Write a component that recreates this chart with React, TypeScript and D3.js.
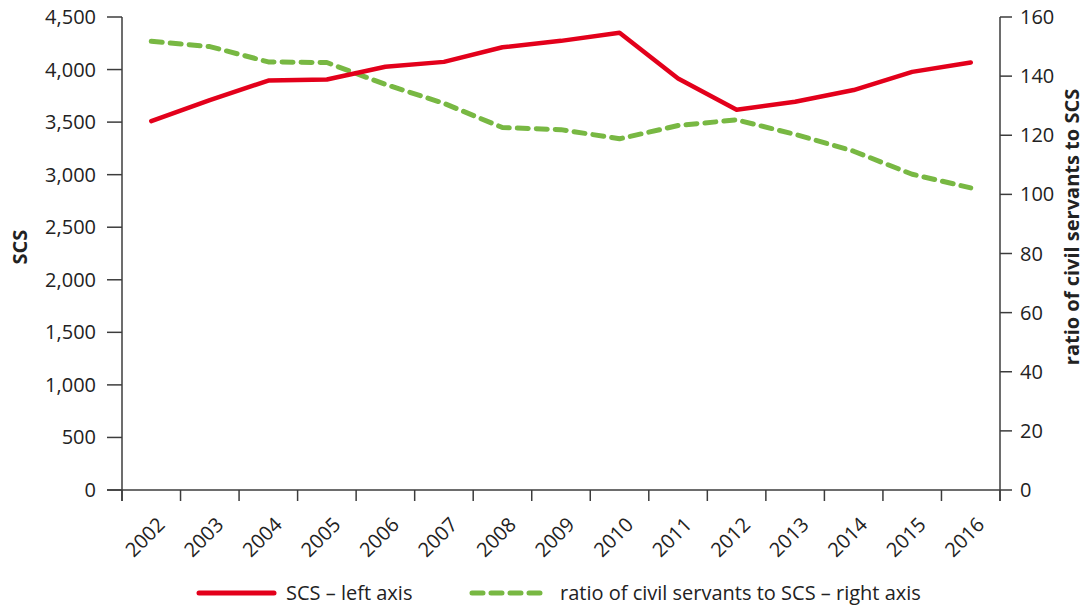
import React from "react";
import * as d3 from "d3";

const years = ["2002","2003","2004","2005","2006","2007","2008","2009","2010","2011","2012","2013","2014","2015","2016"];
const scsValues = [3510, 3710, 3895, 3905, 4027, 4073, 4212, 4273, 4350, 3915, 3618, 3693, 3805, 3978, 4068];
const ratioValues = [151.8, 150.0, 144.8, 144.6, 137.2, 130.8, 122.6, 121.9, 118.8, 123.3, 125.2, 120.3, 114.6, 106.8, 102.2];
const leftTicks = [0, 500, 1000, 1500, 2000, 2500, 3000, 3500, 4000, 4500];
const rightTicks = [0, 20, 40, 60, 80, 100, 120, 140, 160];

const FONT = "'Open Sans', 'Noto Sans', sans-serif";
const RED = "#e3001b";
const GREEN = "#78b843";
const AXIS = "#3c3c3c";

export default function App() {
  const W = 1089, H = 608;
  const left = 122, right = 1000, top = 17, bottom = 490;
  const x = d3.scaleBand<string>().domain(years).range([left, right]);
  const yL = d3.scaleLinear().domain([0, 4500]).range([bottom, top]);
  const yR = d3.scaleLinear().domain([0, 160]).range([bottom, top]);
  const cx = (y: string) => (x(y) as number) + x.bandwidth() / 2;

  const redLine = d3.line<number>().x((_, i) => cx(years[i])).y((d) => yL(d))(scsValues) as string;
  const greenLine = d3.line<number>().x((_, i) => cx(years[i])).y((d) => yR(d))(ratioValues) as string;

  const boundaries = years.map((y) => x(y) as number).concat([right]);

  return (
    <svg width={W} height={H} style={{ position: "absolute", left: 0, top: 0, background: "#fff" }} fontFamily={FONT}>
      {/* left axis */}
      <line x1={left} x2={left} y1={top} y2={bottom + 11} stroke={AXIS} strokeWidth={1.5} />
      {leftTicks.map((t) => (
        <g key={"l" + t}>
          <line x1={left - 15} x2={left} y1={yL(t)} y2={yL(t)} stroke={AXIS} strokeWidth={1.5} />
          <text x={96} y={yL(t)} dy="0.35em" textAnchor="end" fontSize={20} fill="#222">
            {d3.format(",")(t)}
          </text>
        </g>
      ))}
      {/* right axis */}
      <line x1={right} x2={right} y1={top} y2={bottom + 11} stroke={AXIS} strokeWidth={1.5} />
      {rightTicks.map((t) => (
        <g key={"r" + t}>
          <line x1={right} x2={right + 12} y1={yR(t)} y2={yR(t)} stroke={AXIS} strokeWidth={1.5} />
          <text x={1020} y={yR(t)} dy="0.35em" textAnchor="start" fontSize={20} fill="#222">
            {t}
          </text>
        </g>
      ))}
      {/* x axis */}
      <line x1={left - 15} x2={right} y1={bottom} y2={bottom} stroke={AXIS} strokeWidth={1.5} />
      {boundaries.map((b, i) => (
        <line key={"xt" + i} x1={b} x2={b} y1={bottom} y2={bottom + 11} stroke={AXIS} strokeWidth={1.5} />
      ))}
      {years.map((y) => (
        <text
          key={"xl" + y}
          transform={`translate(${cx(y) + 10},${bottom + 31}) rotate(-45)`}
          textAnchor="end"
          dy="0.35em"
          fontSize={20}
          fill="#222"
        >
          {y}
        </text>
      ))}
      {/* axis titles */}
      <text transform={`translate(27,247) rotate(-90)`} textAnchor="middle" fontSize={20} fontWeight="bold" fill="#222">
        SCS
      </text>
      <text transform={`translate(1079,227) rotate(-90)`} textAnchor="middle" fontSize={20} fontWeight="bold" fill="#222">
        ratio of civil servants to SCS
      </text>
      {/* lines */}
      <path d={greenLine} fill="none" stroke={GREEN} strokeWidth={5} strokeDasharray="11 8" strokeLinecap="round" strokeLinejoin="round" />
      <path d={redLine} fill="none" stroke={RED} strokeWidth={4.5} strokeLinejoin="round" strokeLinecap="round" />
      {/* legend */}
      <line x1={199} x2={274} y1={593} y2={593} stroke={RED} strokeWidth={5} strokeLinecap="round" />
      <text x={286} y={593} dy="0.35em" fontSize={20} fill="#222">SCS – left axis</text>
      <line x1={472} x2={548} y1={593} y2={593} stroke={GREEN} strokeWidth={5} strokeDasharray="11 8" strokeLinecap="round" />
      <text x={560} y={593} dy="0.35em" fontSize={20} fill="#222">ratio of civil servants to SCS – right axis</text>
    </svg>
  );
}
